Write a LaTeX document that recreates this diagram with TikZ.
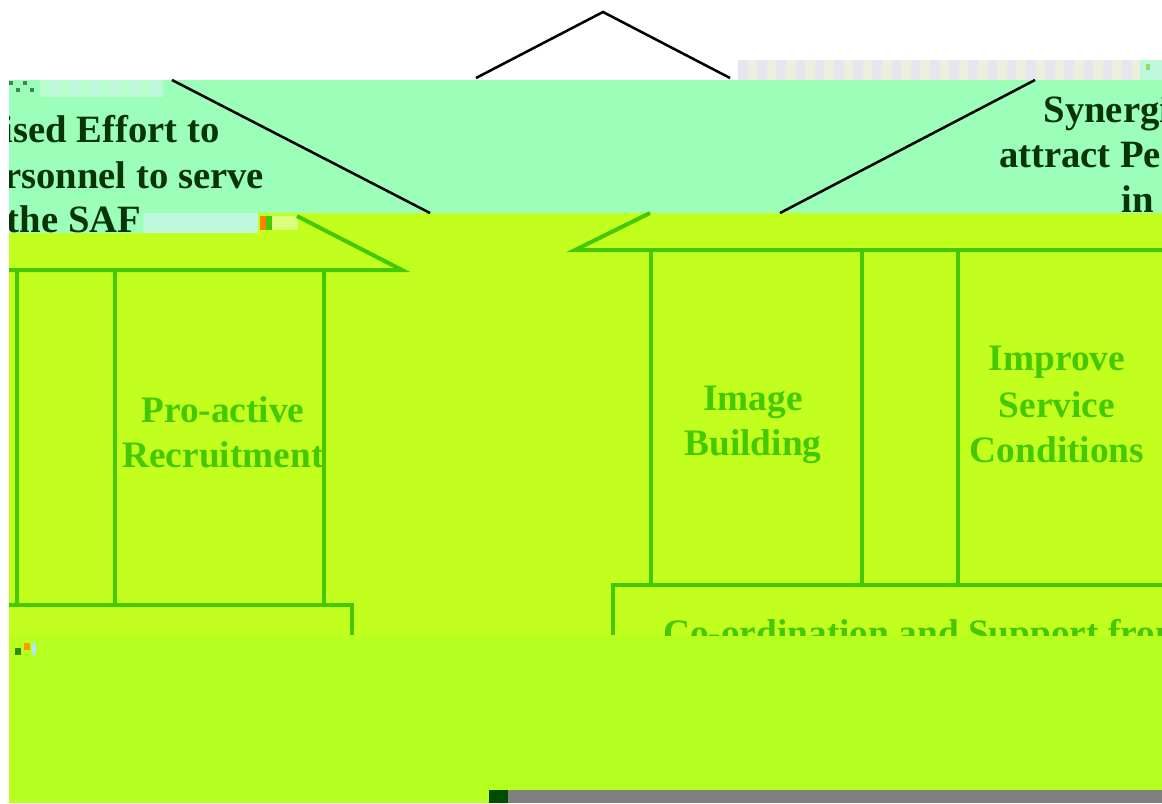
\documentclass[tikz,border=0pt]{standalone}
\usepackage{fontspec}
\setmainfont{Liberation Serif}
\definecolor{mint}{RGB}{155,255,185}
\definecolor{mintpale}{RGB}{190,248,220}
\definecolor{yellowA}{RGB}{195,255,30}
\definecolor{yellowB}{RGB}{182,255,30}
\definecolor{linegreen}{RGB}{68,200,0}
\definecolor{darktxt}{RGB}{8,52,8}
\definecolor{grayA}{RGB}{230,230,240}
\definecolor{grayB}{RGB}{238,238,222}
\definecolor{barGray}{RGB}{128,128,128}
\definecolor{barGreen}{RGB}{0,77,0}
\begin{document}
\begin{tikzpicture}[x=0.75pt,y=-0.75pt,
  hl/.style={font=\fontsize{28}{34}\selectfont\bfseries, inner sep=0pt, anchor=base},
  dark/.style={hl, font=\fontsize{29}{34}\selectfont\bfseries, text=darktxt},
  lite/.style={hl, text=linegreen},
  pillar/.style={draw=linegreen, line width=3pt},
  roofline/.style={draw=black, line width=1.9pt}]
\useasboundingbox (0,0) rectangle (1162,803);
% backgrounds
\fill[white] (0,0) rectangle (1162,803);
\fill[mint] (9,80) rectangle (1162,213);
\fill[mint] (9,213) rectangle (143,233);
\fill[mintpale] (143,213) rectangle (258,233);
\fill[yellowA] (258,213) rectangle (1162,635);
\fill[yellowA] (9,233) rectangle (258,635);
\fill[yellowB] (9,635) rectangle (1162,790);
\fill[yellowB] (9,790) rectangle (489,803);
\fill[barGreen] (489,790) rectangle (508,803);
\fill[barGray] (508,790) rectangle (1162,803);
% glitch strips
\fill[mintpale] (40,80) rectangle (163,97);
\foreach \i in {0,...,5}{\fill[mint!70!white] (40+\i*20,80) rectangle (50+\i*20,97);}
\foreach \i/\j in {0/0,1/1,2/0,3/1}{\fill[darktxt!60!mint] (9+\i*7,81+\j*7) rectangle (13+\i*7,85+\j*7);}
\foreach \i in {0,...,20}{\fill[grayA] (738+\i*19.2,60) rectangle (747.6+\i*19.2,80);
  \fill[grayB] (747.6+\i*19.2,60) rectangle (757.2+\i*19.2,80);}
\fill[mintpale] (1140,60) rectangle (1162,80);
\fill[linegreen!60!white] (1146,64) rectangle (1150,70);
\fill[orange] (260,216) rectangle (266,230);
\fill[linegreen] (266,216) rectangle (272,230);
\fill[yellowA!60!white] (272,216) rectangle (298,230);
\fill[orange!80!yellow] (24,643) rectangle (30,650);
\fill[linegreen!70!black] (15,648) rectangle (21,655);
\fill[cyan!30!white] (32,643) rectangle (36,655);
% black roof lines
\coordinate (apex) at (603,12);
\coordinate (lfoot) at (476,78);
\coordinate (rfoot) at (730,78);
\draw[roofline] (lfoot) -- (apex) -- (rfoot);
\coordinate (m1a) at (172,80); \coordinate (m1b) at (430,213);
\coordinate (m2a) at (1035,80); \coordinate (m2b) at (780,213);
\draw[roofline] (m1a) -- (m1b);
\draw[roofline] (m2a) -- (m2b);
% mint-band text (two wrapped copies)
\begin{scope}
\clip (9,80) rectangle (1162,213) (9,213) rectangle (143,236);
\node[dark] (la) at (53,142) {Synergised Effort to};
\node[dark] (lb) at (53,188) {attract Personnel to serve};
\node[dark] (lc) at (53,232) {in the SAF};
\end{scope}
\begin{scope}
\clip (9,80) rectangle (1162,213);
\node[dark] (ra) at (1210,122) {Synergised Effort to};
\node[dark] (rb) at (1210,167) {attract Personnel to serve};
\node[dark] (rc) at (1210,212) {in the SAF};
\end{scope}
% left house
\coordinate (lr1) at (297,216); \coordinate (lr2) at (402,270); \coordinate (lr3) at (9,270);
\draw[pillar] (lr1) -- (lr2) -- (lr3);
\foreach \x in {17,115,324}{\draw[pillar] (\x,270) -- (\x,605);}
\coordinate (lb1) at (9,605); \coordinate (lb2) at (352,605); \coordinate (lb3) at (352,635);
\draw[pillar] (lb1) -- (lb2) -- (lb3);
% right house
\coordinate (rr1) at (650,213); \coordinate (rr2) at (575,250); \coordinate (rr3) at (1162,250);
\draw[pillar] (rr1) -- (rr2) -- (rr3);
\foreach \x in {651,862,958}{\draw[pillar] (\x,250) -- (\x,585);}
\coordinate (rb1) at (1162,585); \coordinate (rb2) at (613,585); \coordinate (rb3) at (613,635);
\draw[pillar] (rb1) -- (rb2) -- (rb3);
% pillar labels
\node[lite] (pa) at (223,422) {Pro-active};
\node[lite] (pb) at (223,467) {Recruitment};
\node[lite] (ia) at (753,410) {Image};
\node[lite] (ib) at (753,455) {Building};
\node[lite] (sa) at (1057,370) {Improve};
\node[lite] (sb) at (1057,417) {Service};
\node[lite] (sc) at (1057,462) {Conditions};
\begin{scope}
\clip (613,560) rectangle (1162,635);
\node[lite, anchor=base west] (co) at (663,645) {Co-ordination and Support from};
\end{scope}
\end{tikzpicture}
\end{document}
